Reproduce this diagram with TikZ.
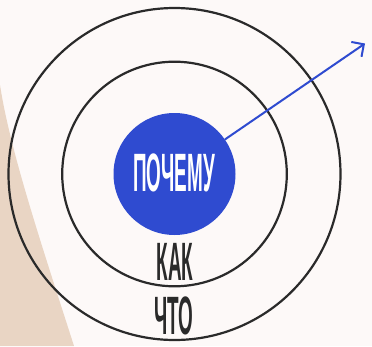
\documentclass[tikz,border=0pt]{standalone}
\usepackage{fontspec}
\usepackage{tikz}
\usetikzlibrary{arrows.meta,positioning,calc}
\newfontfamily\narrowfont[FakeStretch=0.35,UprightFont=* Bold]{Liberation Sans}
\definecolor{paper}{RGB}{253,249,248}
\definecolor{sand}{RGB}{233,213,196}
\definecolor{whyblue}{RGB}{47,75,208}
\definecolor{ink}{RGB}{42,42,42}

\begin{document}
\begin{tikzpicture}[
  x=1pt,y=-1pt,
  ring/.style={circle,draw=ink,line width=2.2pt,inner sep=0pt},
  core/.style={circle,fill=whyblue,inner sep=0pt,minimum size=122pt},
  word/.style={font=\narrowfont\fontsize{54}{54}\selectfont,inner sep=0pt,text=ink},
  line/.style={-{Straight Barb[length=9pt,width=18pt]},line width=2pt,draw=whyblue}
]
  \useasboundingbox (0,0) rectangle (372,346);
  \fill[paper] (0,0) rectangle (372,346);
  \fill[sand] (0,85) .. controls (10,150) and (40,240) .. (74,346) -- (0,346) -- cycle;

  \node[ring,minimum size=332pt] (what) at (174.5,174) {};
  \node[ring,minimum size=224.6pt] (how) at (174.5,174) {};
  \node[core] (why) at (174.5,174) {};

  \node[word,text=white] (whytext) at (174,173.4) {ПОЧЕМУ};
  \node[word] (howtext) at (175,262) {КАК};
  \node[word] (whattext) at (174,316) {ЧТО};

  \coordinate (goal) at (365,43.5);
  \draw[line] (why) -- (goal);
\end{tikzpicture}
\end{document}
